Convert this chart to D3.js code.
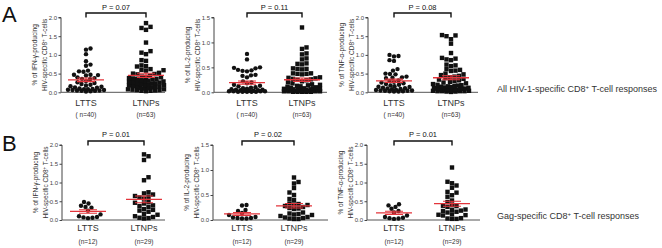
<!DOCTYPE html>
<html>
<head>
<meta charset="utf-8">
<script src="https://cdn.jsdelivr.net/npm/d3@7"></script>
<style>
  body { margin: 0; background: #fff; }
  svg { display: block; font-family: "Liberation Sans", Arial, sans-serif; }
</style>
</head>
<body>
<svg id="chart" width="662" height="248"></svg>
<script>
// ---- data ----
const groups = ["LTTS", "LTNPs"];
const cytokines = ["IFN-γ", "IL-2", "TNF-α"];
const yMaxes = [2.0, 1.5, 2.0];
const pAll = ["P = 0.07", "P = 0.11", "P = 0.08"];
const pGag = ["P = 0.01", "P = 0.02", "P = 0.01"];
const nAll = ["( n=40)", "(n=63)"];
const nGag = ["(n=12)", "(n=29)"];
const rowLabels = ["A", "B"];
const rowTitles = ["All HIV-1-specific CD8", "Gag-specific CD8"];

const allIfnLTTS = [1.17, 1.14, 1.02, 0.83, 0.74, 0.71, 0.58, 0.56, 0.55, 0.47, 0.47, 0.46, 0.45, 0.40, 0.38, 0.36, 0.35, 0.30, 0.27, 0.25,
  0.22, 0.20, 0.18, 0.16, 0.15, 0.13, 0.12, 0.10, 0.09, 0.08, 0.08, 0.07, 0.06, 0.06, 0.05, 0.05, 0.04, 0.04, 0.03, 0.02];
const allIfnLTNP = [1.85, 1.75, 1.72, 1.67, 1.33, 1.10, 1.06, 1.02, 0.86, 0.84, 0.72, 0.70, 0.69, 0.62, 0.60, 0.59, 0.58, 0.52, 0.50, 0.49, 0.48,
  0.44, 0.42, 0.41, 0.40, 0.38, 0.37, 0.36, 0.35, 0.34, 0.32, 0.31, 0.30, 0.29, 0.28, 0.27, 0.26, 0.25, 0.24, 0.23, 0.22, 0.21,
  0.20, 0.19, 0.18, 0.17, 0.16, 0.15, 0.14, 0.13, 0.12, 0.11, 0.10, 0.09, 0.08, 0.08, 0.07, 0.06, 0.06, 0.05, 0.04, 0.04, 0.03];
const allIl2LTTS = [0.77, 0.66, 0.50, 0.49, 0.48, 0.45, 0.44, 0.43, 0.42, 0.35, 0.34, 0.33, 0.30,
  0.22, 0.20, 0.18, 0.15, 0.13, 0.12, 0.10, 0.09, 0.08, 0.07, 0.06, 0.05, 0.05, 0.04, 0.04, 0.03, 0.03, 0.03, 0.02, 0.02,
  0.02, 0.02, 0.01, 0.01, 0.01, 0.01, 0.01];
const allIl2LTNP = [1.30, 0.90, 0.87, 0.78, 0.76, 0.68, 0.66, 0.58, 0.57, 0.56, 0.48, 0.47, 0.47, 0.46, 0.38, 0.38, 0.37, 0.37, 0.36,
  0.30, 0.29, 0.28, 0.27, 0.26, 0.25, 0.24, 0.22, 0.20, 0.18, 0.16, 0.15, 0.14, 0.13, 0.12, 0.11, 0.10, 0.09, 0.08, 0.08,
  0.07, 0.07, 0.06, 0.06, 0.05, 0.05, 0.05, 0.04, 0.04, 0.04, 0.03, 0.03, 0.03, 0.03, 0.02, 0.02, 0.02, 0.02, 0.02, 0.01,
  0.01, 0.01, 0.01, 0.01];
const allTnfLTTS = [1.00, 0.97, 0.96, 0.86, 0.84, 0.62, 0.58, 0.50, 0.49, 0.48, 0.42, 0.40, 0.39, 0.38,
  0.32, 0.30, 0.28, 0.26, 0.24, 0.22, 0.20, 0.18, 0.16, 0.15, 0.14, 0.12, 0.11, 0.10, 0.09, 0.08, 0.07, 0.06, 0.05, 0.05,
  0.04, 0.04, 0.03, 0.03, 0.02, 0.02];
const allTnfLTNP = [1.53, 1.52, 1.50, 1.42, 1.30, 1.05, 0.92, 0.90, 0.88, 0.86, 0.74, 0.72, 0.70, 0.62, 0.60, 0.58, 0.57,
  0.50, 0.48, 0.46, 0.44, 0.42, 0.40, 0.38, 0.36, 0.34, 0.32, 0.30, 0.28, 0.26, 0.24, 0.22, 0.20, 0.19, 0.18, 0.17, 0.16,
  0.15, 0.14, 0.13, 0.12, 0.11, 0.10, 0.10, 0.09, 0.09, 0.08, 0.08, 0.07, 0.07, 0.06, 0.06, 0.05, 0.05, 0.04, 0.04, 0.03,
  0.03, 0.03, 0.03, 0.02, 0.02, 0.01];
const gagIfnLTTS = [0.48, 0.44, 0.38, 0.35, 0.33, 0.25, 0.15, 0.10, 0.08, 0.07, 0.06, 0.05];
const gagIfnLTNP = [1.75, 1.70, 1.60, 1.14, 1.06, 0.74, 0.71, 0.68, 0.64, 0.62, 0.60, 0.57, 0.48, 0.46, 0.44, 0.39, 0.37, 0.35,
  0.29, 0.27, 0.25, 0.22, 0.16, 0.14, 0.10, 0.08, 0.06, 0.05, 0.04];
const gagIl2LTTS = [0.30, 0.29, 0.20, 0.18, 0.14, 0.10, 0.06, 0.05, 0.04, 0.04, 0.03, 0.03];
const gagIl2LTNP = [0.85, 0.76, 0.73, 0.64, 0.55, 0.50, 0.42, 0.40, 0.33, 0.32, 0.31, 0.30, 0.28, 0.26, 0.24, 0.23, 0.22,
  0.15, 0.13, 0.12, 0.11, 0.10, 0.08, 0.06, 0.05, 0.04, 0.03, 0.02, 0.02];
const gagTnfLTTS = [0.42, 0.39, 0.35, 0.30, 0.24, 0.20, 0.12, 0.08, 0.06, 0.05, 0.04, 0.03];
const gagTnfLTNP = [1.40, 1.02, 0.98, 0.92, 0.86, 0.75, 0.73, 0.66, 0.62, 0.52, 0.48, 0.40, 0.38, 0.37, 0.35, 0.28, 0.27,
  0.25, 0.24, 0.22, 0.20, 0.15, 0.14, 0.13, 0.12, 0.05, 0.04, 0.03, 0.03];

const rows = [
  { series: [[allIfnLTTS, allIfnLTNP], [allIl2LTTS, allIl2LTNP], [allTnfLTTS, allTnfLTNP]], p: pAll, n: nAll },
  { series: [[gagIfnLTTS, gagIfnLTNP], [gagIl2LTTS, gagIl2LTNP], [gagTnfLTTS, gagTnfLTNP]], p: pGag, n: nGag }
];

// ---- layout ----
const rowY = [{ top: 17.5, bottom: 92.3, title: 9.5, br: 13, cat: 106, nl: 117, letter: 22, side: 92 },
              { top: 145, bottom: 220, title: 137, br: 141, cat: 231, nl: 243.5, letter: 151, side: 219 }];
const panelX = [
  [{ axis: 61, g: [86, 146], right: 165 }, { axis: 214, g: [247, 302], right: 327 }, { axis: 368, g: [394, 451], right: 478 }],
  [{ axis: 62, g: [88, 144], right: 165 }, { axis: 213, g: [242, 294], right: 328 }, { axis: 367, g: [394, 452], right: 480 }]
];
const red = "#e3343b";
const dotR = 2.2;

const svg = d3.select("#chart");

// simple beeswarm: place sorted values at nearest free horizontal offset
function swarm(values, y, cx, square, maxHalf) {
  const d = dotR * 2;
  const placed = [];
  values.slice().sort((a, b) => a - b).forEach((v, i) => {
    const py = y(v);
    let best = 0, bestScore = -1;
    for (let k = 0; k <= maxHalf; k += 0.5) {
      const cands = k === 0 ? [0] : (i % 2 ? [k, -k] : [-k, k]);
      let found = false;
      for (const off of cands) {
        let minD = Infinity;
        placed.forEach(p => {
          const dx = Math.abs(p.x - (cx + off)), dy = Math.abs(p.y - py);
          const dist = square ? Math.max(dx, dy) : Math.hypot(dx, dy);
          if (dist < minD) minD = dist;
        });
        if (minD >= d * 0.98) { best = off; found = true; break; }
        if (minD > bestScore) { bestScore = minD; best = off; }
      }
      if (found) break;
    }
    placed.push({ x: cx + best, y: py, v });
  });
  return placed;
}

rows.forEach((row, ri) => {
  const ry = rowY[ri];

  svg.append("text").attr("x", 2).attr("y", ry.letter)
    .attr("font-size", 22).attr("fill", "#111").text(rowLabels[ri]);

  const side = svg.append("text").attr("x", 497).attr("y", ry.side)
    .attr("font-size", 9).attr("fill", "#333");
  side.append("tspan").text(rowTitles[ri]);
  side.append("tspan").attr("font-size", 6).attr("dy", -3.5).text("+");
  side.append("tspan").attr("dy", 3.5).text(" T-cell responses");

  row.series.forEach((pair, pi) => {
    const px = panelX[ri][pi];
    const y = d3.scaleLinear().domain([0, yMaxes[pi]]).range([ry.bottom, ry.top]);
    const x = d3.scalePoint().domain(groups).range(px.g);
    const g = svg.append("g");

    // y axis
    const yAxis = g.append("g").attr("transform", `translate(${px.axis},0)`)
      .call(d3.axisLeft(y).tickValues(d3.range(0, yMaxes[pi] + 0.01, 0.5))
        .tickFormat(d3.format(".1f")).tickSize(2.5).tickPadding(1.5));
    yAxis.select(".domain").attr("stroke", "#444").attr("d", `M-2.5,${ry.top}H0V${ry.bottom}`);
    yAxis.selectAll(".tick line").attr("stroke", "#444");
    yAxis.selectAll(".tick text").attr("font-size", 6).attr("fill", "#444")
      .attr("font-family", "Liberation Sans, Arial, sans-serif");

    // baseline
    g.append("line").attr("x1", px.axis).attr("x2", px.right)
      .attr("y1", ry.bottom).attr("y2", ry.bottom).attr("stroke", "#555").attr("stroke-width", 1);

    // y title
    const yc = (ry.top + ry.bottom) / 2;
    g.append("text").attr("transform", `translate(${px.axis - 23.7},${yc}) rotate(-90)`)
      .attr("text-anchor", "middle").attr("font-size", 6.5).attr("fill", "#333")
      .text(`% of ${cytokines[pi]}-producing`);
    const t2 = g.append("text").attr("transform", `translate(${px.axis - 13.7},${yc}) rotate(-90)`)
      .attr("text-anchor", "middle").attr("font-size", 6.5).attr("fill", "#333");
    t2.append("tspan").text("HIV-specific CD8");
    t2.append("tspan").attr("font-size", 4.5).attr("dy", -2.5).text("+");
    t2.append("tspan").attr("dy", 2.5).text(" T-cells");

    // category labels
    groups.forEach((grp, gi) => {
      g.append("text").attr("x", x(grp)).attr("y", ry.cat).attr("text-anchor", "middle")
        .attr("font-size", 9).attr("fill", "#333").text(grp);
      g.append("text").attr("x", x(grp)).attr("y", ry.nl).attr("text-anchor", "middle")
        .attr("font-size", 6.5).attr("fill", "#333").text(row.n[gi]);
    });

    // significance bracket
    g.append("path").attr("fill", "none").attr("stroke", "#111").attr("stroke-width", 1.4)
      .attr("d", `M${x("LTTS")},${ry.br + 4.5}V${ry.br}H${x("LTNPs")}V${ry.br + 4.5}`);
    g.append("text").attr("x", (x("LTTS") + x("LTNPs")) / 2).attr("y", ry.title)
      .attr("text-anchor", "middle").attr("font-size", 7.5).attr("fill", "#111").text(row.p[pi]);

    // dots
    pair.forEach((vals, gi) => {
      const pts = swarm(vals, y, x(groups[gi]), gi === 1, 18);
      if (gi === 0) {
        g.selectAll(null).data(pts).enter().append("circle")
          .attr("cx", d => d.x).attr("cy", d => d.y).attr("r", dotR).attr("fill", "#111");
      } else {
        g.selectAll(null).data(pts).enter().append("rect")
          .attr("x", d => d.x - dotR).attr("y", d => d.y - dotR)
          .attr("width", dotR * 2).attr("height", dotR * 2).attr("fill", "#111");
      }
      // mean +/- SEM
      const m = d3.mean(vals);
      const sem = d3.deviation(vals) / Math.sqrt(vals.length);
      const cx = x(groups[gi]);
      g.append("line").attr("x1", cx - 18).attr("x2", cx + 18).attr("y1", y(m)).attr("y2", y(m))
        .attr("stroke", red).attr("stroke-width", 1.3);
      g.append("path").attr("fill", "none").attr("stroke", red).attr("stroke-width", 1.1)
        .attr("d", `M${cx - 9},${y(m + sem)}H${cx + 9}M${cx},${y(m + sem)}V${y(m - sem)}M${cx - 9},${y(m - sem)}H${cx + 9}`);
    });
  });
});
</script>
</body>
</html>
